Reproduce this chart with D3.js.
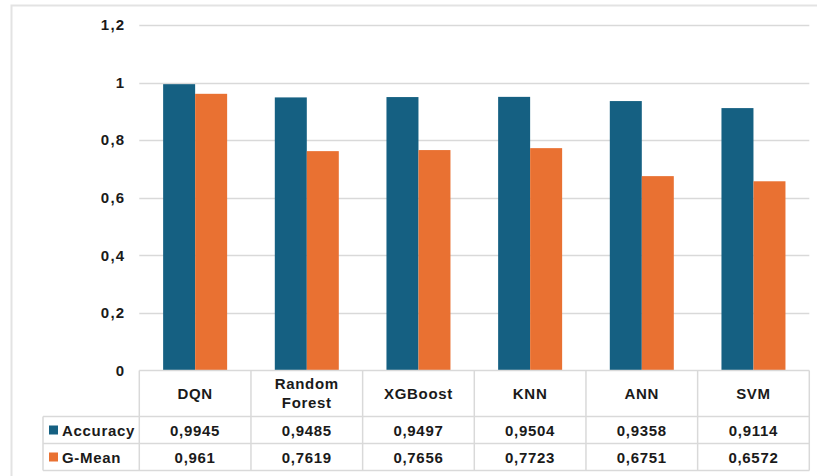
<!DOCTYPE html>
<html>
<head>
<meta charset="utf-8">
<script src="https://cdn.jsdelivr.net/npm/d3@7"></script>
<style>
  body { margin: 0; background: #fff; }
  text { font-family: "Liberation Sans", Arial, sans-serif; font-weight: bold; fill: #1a1a1a; }
</style>
</head>
<body>
<svg id="chart" width="817" height="476"></svg>
<script>
// Model comparison data
const categories = ["DQN", "Random Forest", "XGBoost", "KNN", "ANN", "SVM"];
const seriesNames = ["Accuracy", "G-Mean"];
const accuracy = [0.9945, 0.9485, 0.9497, 0.9504, 0.9358, 0.9114];
const gMean = [0.961, 0.7619, 0.7656, 0.7723, 0.6751, 0.6572];
const yTicks = [0, 0.2, 0.4, 0.6, 0.8, 1, 1.2];
const colors = ["#156082", "#E97132"];

const series = [accuracy, gMean];
const fmt = v => String(v).replace(".", ",");

const svg = d3.select("#chart");
const gridColor = "#d9d9d9";
const fontSize = 15;
const spacing = 0.7;

const plot = { left: 139.3, right: 809.3, top: 25, bottom: 370.5 };

// Outer chart frame (left and top edges visible)
svg.append("path")
  .attr("d", `M11.5,476 V5.5 H817`)
  .attr("fill", "none")
  .attr("stroke", "#e3e3e3")
  .attr("stroke-width", 2);

const x = d3.scaleBand().domain(categories).range([plot.left, plot.right]);
const y = d3.scaleLinear().domain([0, 1.2]).range([plot.bottom, plot.top]);
const inner = d3.scaleBand().domain(seriesNames).range([0, 64]);

// Horizontal gridlines
svg.append("g")
  .selectAll("line")
  .data(yTicks.filter(t => t > 0))
  .join("line")
  .attr("x1", plot.left).attr("x2", plot.right)
  .attr("y1", d => Math.round(y(d)) + 0.5).attr("y2", d => Math.round(y(d)) + 0.5)
  .attr("stroke", gridColor).attr("stroke-width", 1.5);

// Y axis labels
const yAxis = d3.axisLeft(y).tickValues(yTicks).tickFormat(fmt).tickSize(0).tickPadding(14);
const yg = svg.append("g").attr("transform", `translate(${plot.left},0)`).call(yAxis);
yg.select(".domain").remove();
yg.selectAll("text").attr("font-size", fontSize).attr("font-family", null)
  .attr("fill", "#1a1a1a").attr("letter-spacing", 1.2);

// Bars
const groups = svg.append("g")
  .selectAll("g")
  .data(categories)
  .join("g")
  .attr("transform", c => `translate(${x(c) + x.bandwidth() / 2 - 32},0)`);

groups.selectAll("rect")
  .data((c, i) => series.map((s, k) => ({ name: seriesNames[k], value: s[i], k })))
  .join("rect")
  .attr("x", d => inner(d.name))
  .attr("width", inner.bandwidth())
  .attr("y", d => y(d.value))
  .attr("height", d => y(0) - y(d.value))
  .attr("fill", d => colors[d.k]);

// Data table under the plot
const rowTop = plot.bottom;
const rowH = [46, 27, 27];
const rowY = [rowTop, rowTop + rowH[0], rowTop + rowH[0] + rowH[1], rowTop + rowH[0] + rowH[1] + rowH[2]];
const tableLeft = 43;
const table = svg.append("g");

// horizontal lines
table.append("line").attr("x1", plot.left).attr("x2", plot.right)
  .attr("y1", rowY[0]).attr("y2", rowY[0]).attr("stroke", gridColor).attr("stroke-width", 1.5);
[1, 2, 3].forEach(r => {
  table.append("line").attr("x1", tableLeft).attr("x2", plot.right)
    .attr("y1", rowY[r]).attr("y2", rowY[r]).attr("stroke", gridColor).attr("stroke-width", 1.5);
});
// vertical lines
const colEdges = categories.map(c => x(c)).concat([plot.right]);
colEdges.forEach(cx => {
  table.append("line").attr("x1", cx).attr("x2", cx)
    .attr("y1", rowY[0]).attr("y2", rowY[3]).attr("stroke", gridColor).attr("stroke-width", 1.5);
});
table.append("line").attr("x1", tableLeft).attr("x2", tableLeft)
  .attr("y1", rowY[1]).attr("y2", rowY[3]).attr("stroke", gridColor).attr("stroke-width", 1.5);

// category headers
categories.forEach(c => {
  const words = c.split(" ");
  const cx = x(c) + x.bandwidth() / 2;
  const cy = (rowY[0] + rowY[1]) / 2;
  const t = table.append("text").attr("text-anchor", "middle")
    .attr("font-size", fontSize).attr("letter-spacing", spacing);
  words.forEach((w, i) => {
    t.append("tspan").attr("x", cx)
      .attr("y", cy + 5 + (i - (words.length - 1) / 2) * 19)
      .text(w);
  });
});

// series rows
series.forEach((s, k) => {
  const cy = (rowY[k + 1] + rowY[k + 2]) / 2;
  table.append("rect").attr("x", 49).attr("y", cy - 4.5).attr("width", 9).attr("height", 9).attr("fill", colors[k]);
  table.append("text").attr("x", 62).attr("y", cy + 5.5).attr("font-size", fontSize)
    .attr("letter-spacing", spacing).text(seriesNames[k]);
  s.forEach((v, i) => {
    table.append("text").attr("x", x(categories[i]) + x.bandwidth() / 2).attr("y", cy + 5.5)
      .attr("text-anchor", "middle").attr("font-size", fontSize)
      .attr("letter-spacing", spacing).text(fmt(v));
  });
});
</script>
</body>
</html>
